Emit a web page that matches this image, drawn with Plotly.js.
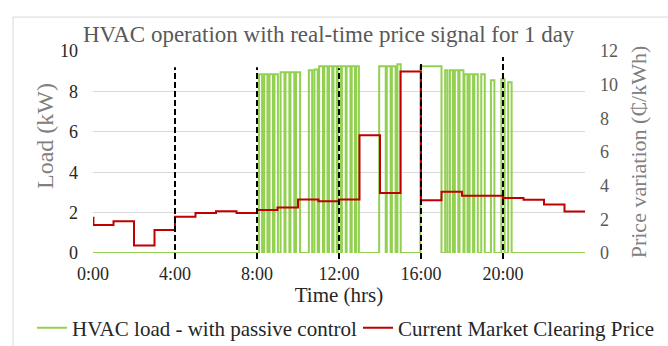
<!DOCTYPE html>
<html>
<head>
<meta charset="utf-8">
<script src="https://cdn.plot.ly/plotly-3.0.1.min.js"></script>
<style>html,body{margin:0;padding:0;background:#fff;}#chart{width:668px;height:346px;}</style>
</head>
<body>
<div id="chart"></div>
<script>
// ---- data ----
var tickHours = [0, 4, 8, 12, 16, 20];
var tickLabels = ['0:00', '4:00', '8:00', '12:00', '16:00', '20:00'];

// Current market clearing price (cents/kWh), hourly steps
var priceHours = [0, 0.02, 1, 2, 3, 4, 5, 6, 7, 8, 9, 10, 11, 12, 13, 14, 15, 16, 17, 18, 19, 20, 21, 22, 23, 24];
var priceValues = [2.1, 1.66, 1.88, 0.44, 1.36, 2.16, 2.38, 2.48, 2.38, 2.56, 2.70, 3.18, 3.08, 3.18, 7.0, 3.56, 10.78, 3.14, 3.64, 3.40, 3.40, 3.26, 3.16, 2.88, 2.47, 2.47];

// HVAC load pulses (on-start hour, on-end hour, load kW)
var pulseStart = [8.10, 8.35, 8.61, 8.85, 9.15, 9.39, 9.63, 9.90, 10.53, 10.80, 11.03, 11.28, 11.51, 11.73, 11.94, 12.14, 12.37, 12.62, 12.84, 13.96, 14.33, 14.58, 14.85, 15.97, 17.18, 17.41, 17.65, 17.88, 18.12, 18.37, 18.60, 18.94, 19.41, 19.92, 20.25];
var pulseEnd   = [8.25, 8.51, 8.78, 9.02, 9.34, 9.58, 9.82, 10.10, 10.69, 10.96, 11.22, 11.44, 11.67, 11.89, 12.10, 12.33, 12.56, 12.78, 12.97, 14.28, 14.52, 14.76, 15.01, 17.00, 17.29, 17.56, 17.82, 18.07, 18.27, 18.54, 18.77, 19.11, 19.58, 20.08, 20.42];
var pulseKW    = [8.85, 8.85, 8.85, 8.85, 8.95, 8.95, 8.95, 8.95, 9.05, 9.08, 9.25, 9.25, 9.25, 9.25, 9.25, 9.25, 9.25, 9.25, 9.25, 9.25, 9.25, 9.25, 9.35, 9.25, 9.05, 9.05, 9.05, 9.05, 8.85, 8.85, 8.85, 8.85, 8.55, 8.6, 8.45];

// Dashed markers (hour, bottom kW, top kW)
var dashHours = [4, 8, 12, 16, 20];
var dashBottom = -0.3;
var dashTops = [9.2, 9.2, 9.15, 9.4, 9.7];

// ---- build traces ----
var loadX = [0], loadY = [0];
for (var i = 0; i < pulseStart.length; i++) {
  loadX.push(pulseStart[i], pulseStart[i], pulseEnd[i], pulseEnd[i]);
  loadY.push(0, pulseKW[i], pulseKW[i], 0);
}
loadX.push(24); loadY.push(0);

var serif = 'Liberation Serif, Times New Roman, serif';
var yRange = [0, 10];

var traces = [
  {x: loadX, y: loadY, type: 'scatter', mode: 'lines', name: 'HVAC load - with passive control',
   line: {color: '#92d050', width: 2}, yaxis: 'y', legend: 'legend'},
  {x: priceHours, y: priceValues, type: 'scatter', mode: 'lines', name: 'Current Market Clearing Price',
   line: {color: '#c00000', width: 2, shape: 'hv'}, yaxis: 'y2', legend: 'legend2'}
];

function toPaperY(v) { return (v - yRange[0]) / (yRange[1] - yRange[0]); }

var shapes = dashHours.map(function (h, k) {
  return {type: 'line', xref: 'x', yref: 'paper', x0: h, x1: h, y0: toPaperY(dashBottom), y1: toPaperY(dashTops[k]),
          line: {color: '#000', width: 2, dash: '6px,3px'}, layer: 'above'};
});
// outer chart border (partially visible)
shapes.push({type: 'line', xref: 'paper', yref: 'paper', x0: -0.1626, x1: -0.1626, y0: -0.6, y1: 1.168,
             line: {color: '#d9d9d9', width: 1}});
shapes.push({type: 'line', xref: 'paper', yref: 'paper', x0: -0.1626, x1: 1.3, y0: 1.168, y1: 1.168,
             line: {color: '#d9d9d9', width: 1}});

var legendBase = {orientation: 'h', xref: 'container', yref: 'container', xanchor: 'left',
                  y: 1 - 328 / 346, yanchor: 'middle', font: {size: 21, color: '#262626'},
                  itemwidth: 30, bgcolor: 'rgba(0,0,0,0)', borderwidth: 0};

var layout = {
  width: 668, height: 346,
  margin: {l: 93, r: 83, t: 51, b: 93},
  paper_bgcolor: '#fff', plot_bgcolor: '#fff',
  font: {family: serif, color: '#404040', size: 18},
  title: {text: 'HVAC operation with real-time price signal for 1 day', font: {family: serif, size: 23, color: '#595959'},
          x: 0.492, xref: 'container', xanchor: 'center', y: 0.902, yref: 'container', yanchor: 'middle'},
  xaxis: {range: [0, 24], tickvals: tickHours, ticktext: tickLabels, showgrid: false, zeroline: false,
          showline: false, ticks: '', ticklabelstandoff: 8, tickfont: {size: 18, color: '#262626'},
          title: {text: 'Time (hrs)', font: {size: 21, color: '#262626'}, standoff: 20}},
  yaxis: {range: yRange, dtick: 2, showgrid: true, gridcolor: '#d9d9d9', gridwidth: 1, zeroline: false,
          showline: false, ticks: '', ticklabelstandoff: 14, tickfont: {size: 18, color: '#262626'}},
  yaxis2: {range: [0, 12], dtick: 2, overlaying: 'y', side: 'right', showgrid: false, zeroline: false,
           showline: false, ticks: '', ticklabelstandoff: 14, tickfont: {size: 18, color: '#595959'},
           title: {text: 'Price variation (₵/kWh)', font: {size: 22, color: '#808080'}, standoff: 13}},
  annotations: [
    {text: 'Load (kW)', xref: 'paper', yref: 'paper', x: (45 - 93) / 492, y: (253 - 136) / 202,
     xanchor: 'center', yanchor: 'middle', textangle: -90, showarrow: false,
     font: {family: serif, size: 24, color: '#808080'}}
  ],
  legend: Object.assign({}, legendBase, {x: 32 / 668}),
  legend2: Object.assign({}, legendBase, {x: 358 / 668}),
  showlegend: true,
  shapes: shapes
};

Plotly.newPlot('chart', traces, layout, {displayModeBar: false, staticPlot: true});
</script>
</body>
</html>
